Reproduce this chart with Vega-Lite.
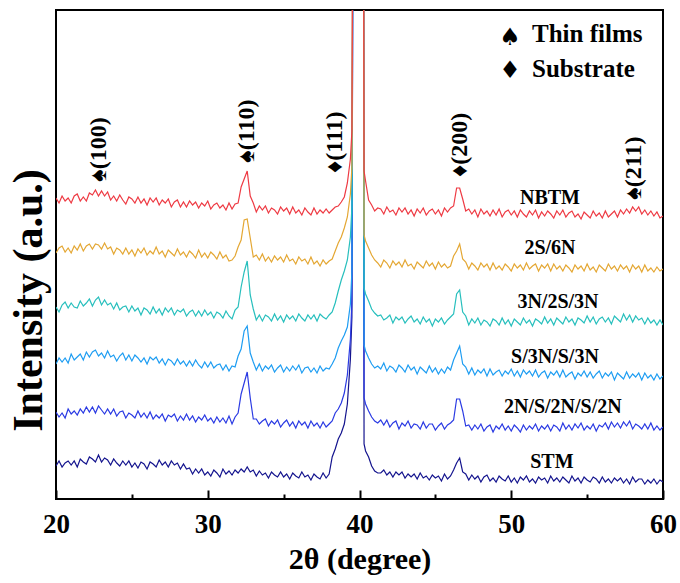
{
"$schema": "https://vega.github.io/schema/vega-lite/v6.json",
"width": 607, "height": 489,
"autosize": {"type": "none"},
"padding": {"left": 56, "top": 10, "right": 17, "bottom": 84},
"background": "white",
"config": {"view": {"stroke": "black", "strokeWidth": 2}, "font": "Liberation Serif"},
"layer": [
{
"data": {"values": [
{"x":20,"a":301,"b":246,"c":192,"d":135,"e":87,"f":33},
{"x":20.2,"a":296,"b":251,"c":187,"d":141,"e":82,"f":38},
{"x":20.4,"a":303,"b":253,"c":194,"d":137,"e":86,"f":32},
{"x":20.6,"a":298,"b":247,"c":197,"d":141,"e":81,"f":36},
{"x":20.8,"a":301,"b":251,"c":191,"d":136,"e":90,"f":38},
{"x":21,"a":296,"b":246,"c":196,"d":145,"e":85,"f":34},
{"x":21.2,"a":303,"b":253,"c":192,"d":139,"e":88,"f":38},
{"x":21.4,"a":305,"b":249,"c":191,"d":142,"e":84,"f":32},
{"x":21.6,"a":298,"b":255,"c":198,"d":145,"e":90,"f":40},
{"x":21.8,"a":302,"b":248,"c":193,"d":139,"e":86,"f":37},
{"x":22,"a":298,"b":253,"c":196,"d":147,"e":92,"f":35},
{"x":22.2,"a":306,"b":255,"c":200,"d":142,"e":87,"f":42},
{"x":22.4,"a":304,"b":250,"c":193,"d":147,"e":92,"f":40},
{"x":22.6,"a":309,"b":255,"c":199,"d":149,"e":86,"f":37},
{"x":22.8,"a":303,"b":254,"c":202,"d":143,"e":93,"f":44},
{"x":23,"a":308,"b":250,"c":194,"d":146,"e":89,"f":37},
{"x":23.2,"a":303,"b":256,"c":199,"d":141,"e":85,"f":41},
{"x":23.4,"a":307,"b":250,"c":194,"d":148,"e":90,"f":39},
{"x":23.6,"a":299,"b":252,"c":196,"d":142,"e":85,"f":34},
{"x":23.8,"a":303,"b":245,"c":190,"d":144,"e":90,"f":40},
{"x":24,"a":298,"b":251,"c":196,"d":138,"e":83,"f":36},
{"x":24.2,"a":304,"b":249,"c":189,"d":143,"e":87,"f":33},
{"x":24.4,"a":299,"b":245,"c":192,"d":146,"e":88,"f":38},
{"x":24.6,"a":295,"b":251,"c":193,"d":139,"e":81,"f":34},
{"x":24.8,"a":302,"b":245,"c":187,"d":144,"e":86,"f":38},
{"x":25,"a":300,"b":249,"c":193,"d":138,"e":84,"f":32},
{"x":25.2,"a":296,"b":243,"c":188,"d":144,"e":81,"f":36},
{"x":25.4,"a":302,"b":250,"c":191,"d":141,"e":88,"f":31},
{"x":25.6,"a":296,"b":246,"c":184,"d":137,"e":82,"f":37},
{"x":25.8,"a":300,"b":251,"c":191,"d":141,"e":86,"f":35},
{"x":26,"a":294,"b":244,"c":189,"d":135,"e":81,"f":30},
{"x":26.2,"a":301,"b":248,"c":185,"d":142,"e":87,"f":37},
{"x":26.4,"a":297,"b":245,"c":192,"d":139,"e":80,"f":35},
{"x":26.6,"a":301,"b":252,"c":186,"d":142,"e":84,"f":32},
{"x":26.8,"a":294,"b":245,"c":190,"d":136,"e":81,"f":39},
{"x":27,"a":299,"b":248,"c":184,"d":140,"e":85,"f":34},
{"x":27.2,"a":296,"b":242,"c":191,"d":134,"e":78,"f":37},
{"x":27.4,"a":300,"b":249,"c":187,"d":140,"e":84,"f":32},
{"x":27.6,"a":292,"b":246,"c":191,"d":138,"e":82,"f":38},
{"x":27.8,"a":297,"b":243,"c":184,"d":134,"e":85,"f":34},
{"x":28,"a":299,"b":250,"c":189,"d":140,"e":78,"f":36},
{"x":28.2,"a":292,"b":244,"c":187,"d":135,"e":83,"f":30},
{"x":28.4,"a":297,"b":247,"c":190,"d":138,"e":79,"f":35},
{"x":28.6,"a":292,"b":242,"c":183,"d":133,"e":85,"f":30},
{"x":28.8,"a":298,"b":248,"c":187,"d":138,"e":79,"f":31},
{"x":29,"a":294,"b":245,"c":189,"d":133,"e":83,"f":25},
{"x":29.2,"a":297,"b":241,"c":183,"d":139,"e":77,"f":30},
{"x":29.4,"a":291,"b":249,"c":188,"d":134,"e":82,"f":26},
{"x":29.6,"a":296,"b":242,"c":183,"d":131,"e":79,"f":30},
{"x":29.8,"a":293,"b":246,"c":189,"d":137,"e":84,"f":24},
{"x":30,"a":298,"b":241,"c":184,"d":132,"e":78,"f":27},
{"x":30.2,"a":290,"b":247,"c":187,"d":137,"e":81,"f":23},
{"x":30.4,"a":294,"b":244,"c":181,"d":131,"e":76,"f":29},
{"x":30.6,"a":296,"b":240,"c":187,"d":134,"e":82,"f":26},
{"x":30.8,"a":291,"b":247,"c":185,"d":135,"e":77,"f":22},
{"x":31,"a":294,"b":241,"c":181,"d":129,"e":81,"f":30},
{"x":31.2,"a":289,"b":244,"c":188,"d":134,"e":76,"f":25},
{"x":31.4,"a":296,"b":238,"c":183,"d":128,"e":83,"f":28},
{"x":31.6,"a":290,"b":239,"c":180,"d":133,"e":75,"f":24},
{"x":31.8,"a":295,"b":243,"c":189,"d":132,"e":82,"f":29},
{"x":32,"a":296,"b":252,"c":192,"d":143,"e":86,"f":26},
{"x":32.2,"a":312,"b":259,"c":212,"d":150,"e":105,"f":30},
{"x":32.4,"a":320,"b":279,"c":227,"d":168,"e":116,"f":27},
{"x":32.6,"a":328,"b":280,"c":238,"d":173,"e":127,"f":32},
{"x":32.8,"a":303,"b":261,"c":204,"d":146,"e":101,"f":27},
{"x":33,"a":296,"b":242,"c":190,"d":137,"e":80,"f":29},
{"x":33.2,"a":287,"b":244,"c":179,"d":129,"e":80,"f":23},
{"x":33.4,"a":293,"b":239,"c":184,"d":135,"e":75,"f":28},
{"x":33.6,"a":289,"b":245,"c":178,"d":128,"e":78,"f":24},
{"x":33.8,"a":293,"b":238,"c":184,"d":133,"e":80,"f":26},
{"x":34,"a":286,"b":242,"c":182,"d":130,"e":73,"f":21},
{"x":34.2,"a":291,"b":237,"c":178,"d":134,"e":78,"f":27},
{"x":34.4,"a":289,"b":243,"c":185,"d":127,"e":75,"f":24},
{"x":34.6,"a":285,"b":239,"c":179,"d":131,"e":79,"f":22},
{"x":34.8,"a":292,"b":242,"c":183,"d":134,"e":72,"f":27},
{"x":35,"a":288,"b":237,"c":177,"d":127,"e":76,"f":22},
{"x":35.2,"a":291,"b":244,"c":184,"d":132,"e":79,"f":25},
{"x":35.4,"a":285,"b":238,"c":180,"d":128,"e":73,"f":20},
{"x":35.6,"a":292,"b":240,"c":183,"d":133,"e":77,"f":26},
{"x":35.8,"a":286,"b":235,"c":178,"d":129,"e":71,"f":23},
{"x":36,"a":289,"b":242,"c":185,"d":134,"e":78,"f":21},
{"x":36.2,"a":284,"b":238,"c":181,"d":126,"e":74,"f":27},
{"x":36.4,"a":291,"b":240,"c":178,"d":131,"e":77,"f":22},
{"x":36.6,"a":287,"b":235,"c":184,"d":132,"e":71,"f":24},
{"x":36.8,"a":284,"b":242,"c":180,"d":127,"e":78,"f":19},
{"x":37,"a":291,"b":235,"c":184,"d":131,"e":73,"f":25},
{"x":37.2,"a":285,"b":238,"c":178,"d":126,"e":76,"f":22},
{"x":37.4,"a":289,"b":233,"c":185,"d":133,"e":71,"f":20},
{"x":37.6,"a":286,"b":239,"c":182,"d":128,"e":77,"f":26},
{"x":37.8,"a":290,"b":235,"c":180,"d":131,"e":72,"f":21},
{"x":38,"a":286,"b":238,"c":184,"d":130,"e":75,"f":25},
{"x":38.2,"a":289,"b":240,"c":187,"d":135,"e":78,"f":42},
{"x":38.4,"a":292,"b":248,"c":196,"d":141,"e":86,"f":50},
{"x":38.6,"a":293,"b":256,"c":208,"d":151,"e":90,"f":60},
{"x":38.8,"a":297,"b":262,"c":219,"d":158,"e":96,"f":66},
{"x":39,"a":302,"b":271,"c":228,"d":164,"e":106,"f":75},
{"x":39.2,"a":316,"b":282,"c":239,"d":172,"e":124,"f":95},
{"x":39.4,"a":340,"b":305,"c":262,"d":195,"e":160,"f":140},
{"x":39.5,"a":368,"b":332,"c":292,"d":228,"e":198,"f":182},
{"x":39.6,"a":800,"b":800,"c":800,"d":800,"e":800,"f":800},
{"x":39.8,"a":800,"b":800,"c":800,"d":800,"e":800,"f":800},
{"x":40,"a":800,"b":800,"c":800,"d":800,"e":800,"f":800},
{"x":40.2,"a":800,"b":800,"c":800,"d":800,"e":800,"f":800},
{"x":40.25,"a":800,"b":800,"c":800,"d":800,"e":800,"f":800},
{"x":40.3,"a":328,"b":264,"c":211,"d":154,"e":101,"f":55},
{"x":40.4,"a":318,"b":258,"c":205,"d":148,"e":95,"f":48},
{"x":40.6,"a":299,"b":251,"c":198,"d":141,"e":88,"f":42},
{"x":40.8,"a":294,"b":244,"c":190,"d":135,"e":82,"f":33},
{"x":41,"a":288,"b":239,"c":186,"d":131,"e":78,"f":28},
{"x":41.2,"a":291,"b":236,"c":183,"d":133,"e":76,"f":26},
{"x":41.4,"a":290,"b":232,"c":184,"d":130,"e":79,"f":26},
{"x":41.6,"a":285,"b":239,"c":179,"d":136,"e":74,"f":29},
{"x":41.8,"a":292,"b":236,"c":181,"d":128,"e":79,"f":24},
{"x":42,"a":287,"b":231,"c":184,"d":133,"e":72,"f":27},
{"x":42.2,"a":289,"b":238,"c":176,"d":131,"e":76,"f":22},
{"x":42.4,"a":284,"b":234,"c":182,"d":127,"e":78,"f":27},
{"x":42.6,"a":291,"b":237,"c":179,"d":134,"e":70,"f":24},
{"x":42.8,"a":287,"b":232,"c":182,"d":131,"e":76,"f":27},
{"x":43,"a":291,"b":239,"c":176,"d":127,"e":73,"f":21},
{"x":43.2,"a":285,"b":233,"c":180,"d":134,"e":78,"f":25},
{"x":43.4,"a":289,"b":235,"c":183,"d":129,"e":71,"f":22},
{"x":43.6,"a":283,"b":230,"c":177,"d":132,"e":75,"f":25},
{"x":43.8,"a":290,"b":237,"c":180,"d":125,"e":74,"f":20},
{"x":44,"a":286,"b":234,"c":175,"d":132,"e":70,"f":26},
{"x":44.2,"a":291,"b":231,"c":182,"d":129,"e":77,"f":21},
{"x":44.4,"a":284,"b":238,"c":177,"d":126,"e":71,"f":23},
{"x":44.6,"a":288,"b":233,"c":180,"d":133,"e":75,"f":19},
{"x":44.8,"a":290,"b":236,"c":173,"d":127,"e":75,"f":24},
{"x":45,"a":285,"b":230,"c":180,"d":131,"e":69,"f":21},
{"x":45.2,"a":289,"b":237,"c":177,"d":125,"e":73,"f":23},
{"x":45.4,"a":283,"b":232,"c":181,"d":130,"e":76,"f":18},
{"x":45.6,"a":291,"b":235,"c":175,"d":126,"e":70,"f":25},
{"x":45.8,"a":287,"b":231,"c":179,"d":132,"e":74,"f":20},
{"x":46,"a":291,"b":233,"c":182,"d":129,"e":76,"f":23},
{"x":46.2,"a":293,"b":243,"c":185,"d":139,"e":79,"f":29},
{"x":46.4,"a":311,"b":248,"c":205,"d":146,"e":100,"f":36},
{"x":46.6,"a":311,"b":255,"c":209,"d":153,"e":100,"f":41},
{"x":46.8,"a":300,"b":240,"c":187,"d":135,"e":88,"f":27},
{"x":47,"a":288,"b":237,"c":183,"d":132,"e":73,"f":25},
{"x":47.2,"a":290,"b":230,"c":174,"d":125,"e":74,"f":19},
{"x":47.4,"a":285,"b":236,"c":180,"d":131,"e":69,"f":24},
{"x":47.6,"a":289,"b":233,"c":176,"d":124,"e":74,"f":20},
{"x":47.8,"a":282,"b":229,"c":181,"d":129,"e":70,"f":23},
{"x":48,"a":290,"b":236,"c":174,"d":126,"e":75,"f":17},
{"x":48.2,"a":285,"b":232,"c":179,"d":130,"e":68,"f":22},
{"x":48.4,"a":288,"b":235,"c":177,"d":123,"e":72,"f":24},
{"x":48.6,"a":283,"b":229,"c":173,"d":130,"e":74,"f":18},
{"x":48.8,"a":289,"b":236,"c":180,"d":124,"e":67,"f":21},
{"x":49,"a":284,"b":230,"c":178,"d":127,"e":73,"f":17},
{"x":49.2,"a":290,"b":233,"c":174,"d":129,"e":70,"f":23},
{"x":49.4,"a":282,"b":229,"c":181,"d":123,"e":75,"f":20},
{"x":49.6,"a":287,"b":235,"c":175,"d":128,"e":69,"f":18},
{"x":49.8,"a":289,"b":232,"c":179,"d":125,"e":73,"f":23},
{"x":50,"a":284,"b":228,"c":173,"d":130,"e":68,"f":17},
{"x":50.2,"a":288,"b":235,"c":180,"d":123,"e":74,"f":21},
{"x":50.4,"a":282,"b":231,"c":177,"d":128,"e":71,"f":16},
{"x":50.6,"a":289,"b":234,"c":174,"d":122,"e":67,"f":22},
{"x":50.8,"a":285,"b":229,"c":181,"d":129,"e":74,"f":19},
{"x":51,"a":282,"b":236,"c":176,"d":125,"e":69,"f":23},
{"x":51.2,"a":288,"b":230,"c":179,"d":128,"e":73,"f":17},
{"x":51.4,"a":284,"b":233,"c":173,"d":123,"e":70,"f":20},
{"x":51.6,"a":289,"b":235,"c":180,"d":129,"e":75,"f":16},
{"x":51.8,"a":281,"b":228,"c":178,"d":122,"e":68,"f":22},
{"x":52,"a":287,"b":234,"c":175,"d":126,"e":73,"f":19},
{"x":52.2,"a":283,"b":231,"c":182,"d":128,"e":70,"f":21},
{"x":52.4,"a":288,"b":235,"c":176,"d":121,"e":74,"f":16},
{"x":52.6,"a":285,"b":228,"c":180,"d":127,"e":68,"f":23},
{"x":52.8,"a":281,"b":235,"c":174,"d":124,"e":74,"f":18},
{"x":53,"a":288,"b":230,"c":181,"d":128,"e":72,"f":21},
{"x":53.2,"a":284,"b":233,"c":178,"d":122,"e":68,"f":17},
{"x":53.4,"a":289,"b":228,"c":175,"d":129,"e":76,"f":22},
{"x":53.6,"a":282,"b":234,"c":182,"d":122,"e":70,"f":19},
{"x":53.8,"a":286,"b":231,"c":177,"d":125,"e":74,"f":16},
{"x":54,"a":288,"b":227,"c":180,"d":127,"e":69,"f":23},
{"x":54.2,"a":282,"b":234,"c":174,"d":120,"e":75,"f":18},
{"x":54.4,"a":285,"b":230,"c":181,"d":126,"e":71,"f":21},
{"x":54.6,"a":280,"b":233,"c":179,"d":123,"e":76,"f":16},
{"x":54.8,"a":287,"b":228,"c":176,"d":128,"e":69,"f":22},
{"x":55,"a":284,"b":235,"c":183,"d":122,"e":73,"f":19},
{"x":55.2,"a":281,"b":229,"c":177,"d":127,"e":70,"f":17},
{"x":55.4,"a":288,"b":232,"c":182,"d":121,"e":75,"f":22},
{"x":55.6,"a":283,"b":227,"c":175,"d":125,"e":68,"f":20},
{"x":55.8,"a":286,"b":234,"c":180,"d":128,"e":74,"f":16},
{"x":56,"a":281,"b":231,"c":182,"d":121,"e":72,"f":22},
{"x":56.2,"a":288,"b":228,"c":177,"d":126,"e":76,"f":17},
{"x":56.4,"a":282,"b":235,"c":181,"d":123,"e":70,"f":20},
{"x":56.6,"a":285,"b":230,"c":175,"d":127,"e":77,"f":16},
{"x":56.8,"a":288,"b":233,"c":183,"d":119,"e":72,"f":21},
{"x":57,"a":282,"b":228,"c":180,"d":126,"e":76,"f":18},
{"x":57.2,"a":289,"b":234,"c":177,"d":123,"e":71,"f":21},
{"x":57.4,"a":285,"b":230,"c":185,"d":120,"e":77,"f":16},
{"x":57.6,"a":290,"b":233,"c":179,"d":127,"e":73,"f":20},
{"x":57.8,"a":286,"b":227,"c":184,"d":121,"e":78,"f":15},
{"x":58,"a":292,"b":234,"c":177,"d":125,"e":70,"f":22},
{"x":58.2,"a":288,"b":230,"c":183,"d":122,"e":75,"f":17},
{"x":58.4,"a":292,"b":233,"c":179,"d":126,"e":73,"f":20},
{"x":58.6,"a":285,"b":227,"c":181,"d":119,"e":70,"f":20},
{"x":58.8,"a":289,"b":234,"c":175,"d":126,"e":75,"f":15},
{"x":59,"a":284,"b":228,"c":181,"d":121,"e":70,"f":19},
{"x":59.2,"a":288,"b":231,"c":176,"d":124,"e":76,"f":16},
{"x":59.4,"a":283,"b":227,"c":179,"d":119,"e":69,"f":20},
{"x":59.6,"a":287,"b":232,"c":174,"d":125,"e":73,"f":15},
{"x":59.8,"a":281,"b":228,"c":179,"d":120,"e":69,"f":19},
{"x":60,"a":283,"b":230,"c":174,"d":123,"e":72,"f":17}
]},
"transform": [{"fold": ["f","e","d","c","b","a"], "as": ["s","v"]}],
"mark": {"type": "line", "strokeWidth": 1.2, "clip": true},
"encoding": {
"x": {"field": "x", "type": "quantitative",
 "scale": {"domain": [20, 60], "nice": false, "zero": false},
 "axis": {"title": "2θ (degree)", "values": [20,25,30,35,40,45,50,55,60],
  "labelExpr": "datum.value % 10 === 0 ? datum.label : ''",
  "tickSize": {"condition": {"test": "datum.value % 10 === 0", "value": -9}, "value": -5},
  "tickWidth": 2, "tickColor": "black", "grid": false, "domain": false,
  "labelFlush": false, "labelOverlap": false, "labelPadding": 42, "labelBaseline": "alphabetic",
  "labelFont": "Liberation Serif", "labelFontSize": 27, "labelFontWeight": "bold", "labelColor": "black",
  "titleFont": "Liberation Serif", "titleFontSize": 30, "titleFontWeight": "bold", "titleColor": "black",
  "titleY": 69, "titleBaseline": "alphabetic"}},
"y": {"field": "v", "type": "quantitative",
 "scale": {"domain": [0, 489], "nice": false, "zero": false},
 "axis": {"title": "Intensity (a.u.)", "labels": false, "ticks": false, "domain": false, "grid": false,
  "titleFont": "Liberation Serif", "titleFontSize": 42, "titleFontWeight": "bold", "titleColor": "black",
  "titleX": -28, "titleY": 290, "titleAngle": 270, "titleAlign": "center", "titleBaseline": "middle"}},
"color": {"field": "s", "type": "nominal",
 "scale": {"domain": ["a","b","c","d","e","f"], "range": ["#EE3A43","#E4A733","#27BFBD","#1E9DF2","#2A3AE3","#14148E"]},
 "legend": null}
}
},
{
"data": {"values": [
{"x":52.55,"v":301,"t":"NBTM"},
{"x":52.55,"v":251,"t":"2S/6N"},
{"x":53.08,"v":197,"t":"3N/2S/3N"},
{"x":52.88,"v":142,"t":"S/3N/S/3N"},
{"x":53.4,"v":92,"t":"2N/S/2N/S/2N"},
{"x":52.68,"v":37,"t":"STM"}
]},
"mark": {"type": "text", "font": "Liberation Serif", "fontSize": 20, "fontWeight": "bold", "align": "center", "baseline": "middle", "color": "black"},
"encoding": {"x": {"field": "x", "type": "quantitative"}, "y": {"field": "v", "type": "quantitative"}, "text": {"field": "t"}}
},
{
"data": {"values": [
{"x":22.83,"v":317,"t":"♠(100)"},
{"x":32.59,"v":336,"t":"♠(110)"},
{"x":38.39,"v":326,"t":"♦(111)"},
{"x":46.62,"v":322,"t":"♦(200)"},
{"x":58.09,"v":299,"t":"♠(211)"}
]},
"mark": {"type": "text", "font": "Liberation Serif", "fontSize": 24, "fontWeight": "bold", "angle": 270, "align": "left", "baseline": "middle", "color": "black"},
"encoding": {"x": {"field": "x", "type": "quantitative"}, "y": {"field": "v", "type": "quantitative"}, "text": {"field": "t"}}
},
{
"data": {"values": [
{"x":51.37,"v":465,"t":"Thin films"},
{"x":51.37,"v":430,"t":"Substrate"}
]},
"mark": {"type": "text", "font": "Liberation Serif", "fontSize": 25, "fontWeight": "bold", "align": "left", "baseline": "middle", "color": "black"},
"encoding": {"x": {"field": "x", "type": "quantitative"}, "y": {"field": "v", "type": "quantitative"}, "text": {"field": "t"}}
},
{
"data": {"values": [
{"x":49.92,"v":461,"t":"♠"},
{"x":49.92,"v":428,"t":"♦"}
]},
"mark": {"type": "text", "font": "DejaVu Sans", "fontSize": 24, "align": "center", "baseline": "middle", "color": "black"},
"encoding": {"x": {"field": "x", "type": "quantitative"}, "y": {"field": "v", "type": "quantitative"}, "text": {"field": "t"}}
}
]
}
